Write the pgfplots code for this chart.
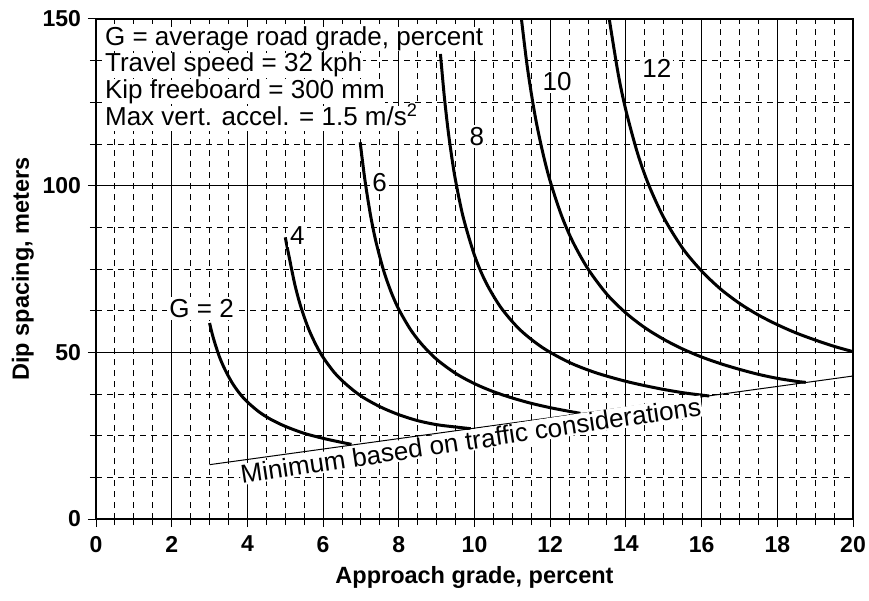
\documentclass[border=0pt]{standalone}
\usepackage{pgfplots}
\pgfplotsset{compat=1.18}
\usepackage{fontspec}
\setmainfont{Liberation Sans}
\begin{document}
\begin{tikzpicture}
\begin{axis}[
 scale only axis, width=378.5pt, height=250pt,
 xmin=0,xmax=20,ymin=0,ymax=150,
 xtick={0,2,...,20}, ytick={0,50,100,150},
 minor x tick num=3, minor y tick num=3,
 grid=both,
 major grid style={black,line width=0.5pt},
 minor grid style={black,line width=0.5pt,dash pattern=on 3pt off 2.5pt},
 axis line style={line width=1.3pt},
 tick align=center, tick pos=left,
 major tick length=8pt, minor tick length=6pt,
 tick style={black,line width=0.5pt},
 /pgf/number format/assume math mode=true,
 ticklabel style={font=\bfseries\fontsize{11.5}{13}\selectfont},
 xticklabel style={yshift=-1pt},
 label style={font=\bfseries\fontsize{11.75}{14}\selectfont},
 ylabel style={yshift=-2.5pt},
 xlabel={Approach grade, percent},
 ylabel={Dip spacing, meters},
 clip=false,
]
% minimum line
\addplot[black, line width=0.5pt] coordinates {(3,16.3) (20,42.9)};
% G=2
\addplot[black, line width=1.5pt, smooth] coordinates {
(3.0,58.8) (3.1,54.3) (3.25,49.0) (3.4,45.0) (3.6,40.8) (3.8,37.6) (4.0,35.1) (4.3,32.2) (4.6,30.0) (5.0,27.8) (5.5,25.7) (6.0,24.2) (6.4,23.2) (6.75,22.4)};
% G=4
\addplot[black, line width=1.5pt, smooth] coordinates {
(5.0,84.5) (5.1,78.8) (5.25,70.5) (5.4,64.1) (5.6,57.5) (5.8,52.5) (6.0,48.5) (6.3,43.9) (6.6,40.5) (7.0,36.9) (7.5,33.7) (8.0,31.3) (8.5,29.5) (9.0,28.3) (9.5,27.6) (9.9,27.1)};
% G=6
\addplot[black, line width=1.5pt, smooth] coordinates {
(6.98,113.0) (7.1,102.1) (7.25,91.3) (7.4,83.0) (7.6,74.5) (7.8,68.0) (8.0,62.9) (8.3,57.0) (8.6,52.5) (9.0,47.9) (9.5,43.7) (10.0,40.6) (10.5,38.2) (11.0,36.3) (11.5,34.7) (12.0,33.4) (12.5,32.3) (12.8,31.7)};
% G=8
\addplot[black, line width=1.5pt, smooth] coordinates {
(9.1,139.5) (9.2,127.0) (9.3,116.8) (9.4,108.5) (9.5,101.5) (9.7,90.6) (10.0,79.1) (10.3,71.0) (10.7,63.4) (11.2,56.8) (11.8,51.4) (12.5,47.0) (13.2,43.9) (14.0,41.3) (14.8,39.3) (15.5,37.9) (16.2,36.9)};
% G=10
\addplot[black, line width=1.5pt, smooth] coordinates {
(11.24,150) (11.4,135.2) (11.6,121.0) (11.8,110.1) (12.0,101.3) (12.3,91.0) (12.6,83.1) (13.0,75.0) (13.5,67.4) (14.0,61.8) (14.5,57.4) (15.0,53.9) (15.5,51.0) (16.0,48.6) (16.5,46.6) (17.0,44.9) (17.5,43.4) (18.0,42.2) (18.5,41.3) (18.75,41.0)};
% G=12
\addplot[black, line width=1.5pt, smooth] coordinates {
(13.56,150) (13.8,133.3) (14.0,122.6) (14.3,110.0) (14.6,100.3) (15.0,90.4) (15.5,81.2) (16.0,74.4) (16.5,69.0) (17.0,64.7) (17.5,61.2) (18.0,58.3) (18.5,55.8) (19.0,53.7) (19.5,51.8) (20.0,50.2)};
% curve labels
\begin{scope}[every node/.style={font=\fontsize{13}{14}\selectfont, fill=white, inner sep=1pt}]
\node at (axis cs:2.79,63.2) {G = 2};
\node at (axis cs:5.32,84.9) {4};
\node at (axis cs:7.49,100.9) {6};
\node at (axis cs:10.06,114.7) {8};
\node at (axis cs:12.18,131.1) {10};
\node at (axis cs:14.82,135.3) {12};
\end{scope}
\begin{scope}[every node/.style={font=\fontsize{13}{14}\selectfont, fill=white, inner sep=0.2pt, text height=9.3pt, text depth=2.6pt, anchor=base west}]
\node at (axis cs:0.22,142.0) {G = average road grade, percent};
\node at (axis cs:0.22,134.1) {Travel speed = 32 kph};
\node at (axis cs:0.22,126.1) {Kip freeboard = 300 mm};
\node at (axis cs:0.22,118.1) {Max vert. accel. = 1.5 m/s\textsuperscript{2}};
\end{scope}
\node[font=\fontsize{13}{14}\selectfont, fill=white, rotate=8.5, inner sep=0.5pt] at (axis cs:9.9,23.6) {Minimum based on traffic considerations};
\end{axis}
\pgfresetboundingbox
\path[use as bounding box] ([shift={(-48pt,-40.5pt)}]current axis.south west) rectangle ([shift={(8pt,9.5pt)}]current axis.north east);
\end{tikzpicture}
\end{document}
